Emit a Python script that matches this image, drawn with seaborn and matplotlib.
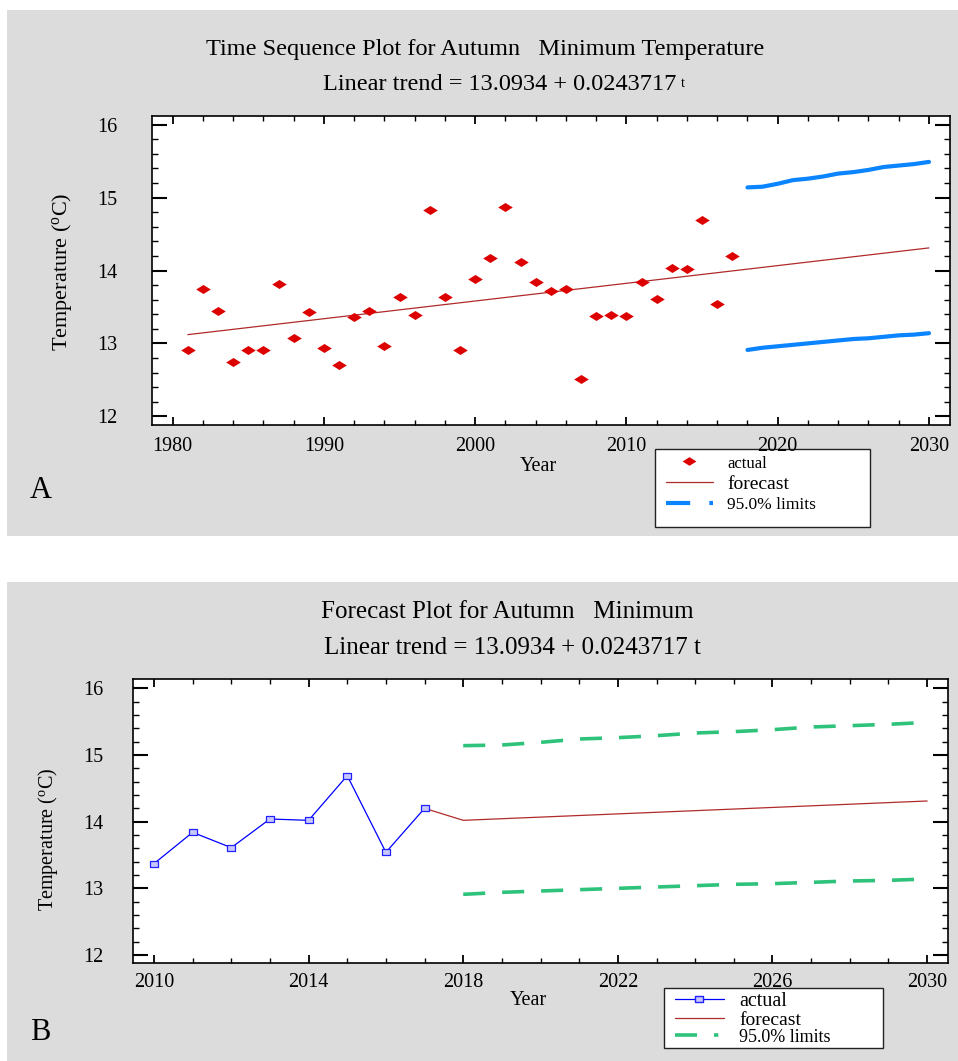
import seaborn as sns
import matplotlib.pyplot as plt
from matplotlib.lines import Line2D
from matplotlib.patches import Rectangle
from matplotlib.path import Path
from matplotlib.ticker import MultipleLocator

# values
years = list(range(1981, 2018))
actual = [12.91, 13.75, 13.45, 12.74, 12.91, 12.91, 13.81, 13.07, 13.43, 12.94,
          12.71, 13.36, 13.45, 12.96, 13.64, 13.39, 14.83, 13.64, 12.91, 13.89,
          14.17, 14.87, 14.11, 13.84, 13.72, 13.75, 12.51, 13.37, 13.39, 13.37,
          13.84, 13.61, 14.04, 14.02, 14.69, 13.54, 14.20]
trend_years = [1981, 2030]
trend_vals = [13.12, 14.31]
fc_years = [2018, 2030]
fc_vals = [14.02, 14.31]
limit_years = list(range(2018, 2031))
upper = [15.14, 15.15, 15.19, 15.24, 15.26, 15.29, 15.33, 15.35, 15.38, 15.42, 15.44, 15.46, 15.49]
lower = [12.91, 12.94, 12.96, 12.98, 13.00, 13.02, 13.04, 13.06, 13.07, 13.09, 13.11, 13.12, 13.14]
recent_years = years[-8:]
recent_actual = actual[-8:]
xticks_a = list(range(1980, 2031, 10))
xticks_b = list(range(2010, 2031, 4))

title_a = "Time Sequence Plot for Autumn   Minimum Temperature"
title_b = "Forecast Plot for Autumn   Minimum"
trend_txt = "Linear trend = 13.0934 + 0.0243717"
ylab = r"Temperature ($^{\mathrm{o}}$C)"
leg_labels = ["actual", "forecast", "95.0% limits"]

W, H = 958, 1061
def fx(px):
    return px / W
def fy(py):
    return 1 - py / H

sns.set_theme(style="ticks")
plt.rcParams["font.family"] = ["Liberation Serif", "DejaVu Serif"]
plt.rcParams["mathtext.fontset"] = "custom"
plt.rcParams["mathtext.rm"] = "Liberation Serif"
plt.rcParams["mathtext.it"] = "Liberation Serif:italic"
plt.rcParams["text.color"] = "black"
plt.rcParams["axes.labelcolor"] = "black"
plt.rcParams["xtick.color"] = "black"
plt.rcParams["ytick.color"] = "black"
plt.rcParams["legend.labelcolor"] = "black"

gray = "#dcdcdc"
red = "#dd0000"
fc_col = "#b02a2a"
blue_lim = "#0a84ff"
green = "#2ec27a"

fig = plt.figure(figsize=(W / 100, H / 100), dpi=100)
fig.patch.set_facecolor("white")
for top, bot in [(10, 536), (582, 1061)]:
    fig.add_artist(Rectangle((fx(7), fy(bot)), (W - 7) / W, (bot - top) / H,
                             transform=fig.transFigure, facecolor=gray,
                             edgecolor="none", zorder=-5))

diamond = Path([(-1, 0), (0, 0.62), (1, 0), (0, -0.62), (-1, 0)], closed=True)
box = Path([(-1, -0.62), (1, -0.62), (1, 0.62), (-1, 0.62), (-1, -0.62)], closed=True)


def style_axis(ax, xlim, ylim, xticks, xmin, ypad, xpad):
    ax.set_facecolor("white")
    ax.set_xticks(xticks)
    ax.set_xlim(*xlim)
    ax.set_ylim(*ylim)
    ax.xaxis.set_minor_locator(MultipleLocator(xmin))
    ax.yaxis.set_major_locator(MultipleLocator(1))
    ax.yaxis.set_minor_locator(MultipleLocator(0.2))
    for s in ax.spines.values():
        s.set_visible(True)
        s.set_linewidth(1.2)
        s.set_color("black")
    ax.tick_params(which="both", direction="in", top=True, right=True, colors="black")
    ax.tick_params(axis="y", which="major", length=10.8, width=1.5, pad=ypad, labelsize=14.5)
    ax.tick_params(axis="y", which="minor", length=4.5, width=1)
    ax.tick_params(axis="x", which="major", length=5.8, width=1.3, pad=xpad, labelsize=14.5)
    ax.tick_params(axis="x", which="minor", length=3.4, width=1)
    ax.set_ylabel("")


# ---- panel A
ax1 = fig.add_axes([fx(151.7), fy(425), 798.3 / W, 309 / H])
sns.lineplot(x=trend_years, y=trend_vals, ax=ax1, color=fc_col, lw=0.9)
sns.lineplot(x=limit_years, y=upper, ax=ax1, color=blue_lim, lw=3)
sns.lineplot(x=limit_years, y=lower, ax=ax1, color=blue_lim, lw=3)
sns.scatterplot(x=years, y=actual, ax=ax1, marker=diamond, s=110, color=red,
                edgecolor=red, linewidth=0, zorder=5)
style_axis(ax1, (1978.61, 2031.39), (11.88, 16.12), xticks_a, 2, 24.5, 8.6)
ax1.set_xlabel("Year", fontsize=14.5)
ax1.xaxis.set_label_coords(0.484, -0.105)

fig.text(fx(485), fy(49), title_a, ha="center", va="center", fontsize=17.5)
t1 = fig.text(fx(500), fy(84), trend_txt, ha="center", va="center", fontsize=17.5)
ax1.annotate("t", xy=(1, 0.22), xycoords=t1, xytext=(3, 0), textcoords="offset points",
             fontsize=10, va="bottom", ha="left", annotation_clip=False)
fig.text(fx(62), fy(272), ylab, rotation=90, ha="center", va="center", fontsize=16)
fig.text(fx(41), fy(490), "A", ha="center", va="center", fontsize=22)

h1 = [Line2D([], [], ls="none", marker=diamond, ms=10, color=red, mew=0),
      Line2D([], [], color=fc_col, lw=0.9),
      Line2D([], [], color=blue_lim, lw=3, dashes=(5.8, 4.6, 1.0, 20))]
leg1 = ax1.legend(h1, leg_labels, loc="upper left",
                  bbox_to_anchor=(fx(666), fy(455)), bbox_transform=fig.transFigure,
                  frameon=False, borderpad=0, borderaxespad=0, handlelength=2.6,
                  handletextpad=0.8, labelspacing=0.22, fontsize=13)
for txt, sz in zip(leg1.get_texts(), [12, 14, 12.5]):
    txt.set_fontsize(sz)
fig.add_artist(Rectangle((fx(655), fy(527)), 215 / W, 78 / H, transform=fig.transFigure,
                         facecolor="white", edgecolor="#222222", lw=1, zorder=-1))

# ---- panel B
ax2 = fig.add_axes([fx(132.7), fy(963), 815.3 / W, 284 / H])
sns.lineplot(x=[recent_years[-1]] + fc_years, y=[recent_actual[-1]] + fc_vals,
             ax=ax2, color=fc_col, lw=0.9)
sns.lineplot(x=recent_years, y=recent_actual, ax=ax2, color="#0000ff", lw=0.9,
             marker=box, ms=6, mfc="#c8c8ff", mec="#2222ff", mew=0.9)
sns.lineplot(x=limit_years, y=upper, ax=ax2, color=green, lw=2.6, linestyle=(0, (6.1, 4.7)))
sns.lineplot(x=limit_years, y=lower, ax=ax2, color=green, lw=2.6, linestyle=(0, (6.1, 4.7)))
style_axis(ax2, (2009.45, 2030.54), (11.88, 16.14), xticks_b, 1, 21, 7.2)
ax2.set_xlabel("Year", fontsize=14.5)
ax2.xaxis.set_label_coords(0.485, -0.1)

fig.text(fx(507), fy(612), title_b, ha="center", va="center", fontsize=18)
fig.text(fx(512), fy(648), trend_txt + " t", ha="center", va="center", fontsize=18)
fig.text(fx(48), fy(839), ylab, rotation=90, ha="center", va="center", fontsize=14.5)
fig.text(fx(40), fy(1032), "B", ha="center", va="center", fontsize=22)

h2 = [Line2D([], [], color="#0000ff", lw=0.9, marker=box, ms=6, mfc="#c8c8ff", mec="#2222ff"),
      Line2D([], [], color=fc_col, lw=0.9),
      Line2D([], [], color=green, lw=2.6, dashes=(6.1, 4.7, 1.2, 20))]
leg2 = ax2.legend(h2, leg_labels, loc="upper left",
                  bbox_to_anchor=(fx(675), fy(992)), bbox_transform=fig.transFigure,
                  frameon=False, borderpad=0, borderaxespad=0, handlelength=2.5,
                  handletextpad=0.8, labelspacing=0.0, fontsize=14)
for txt, sz in zip(leg2.get_texts(), [14.5, 14, 13]):
    txt.set_fontsize(sz)
fig.add_artist(Rectangle((fx(664), fy(1048)), 219 / W, 60 / H, transform=fig.transFigure,
                         facecolor="white", edgecolor="#222222", lw=1, zorder=-1))

fig.savefig("out.png", dpi=100)
